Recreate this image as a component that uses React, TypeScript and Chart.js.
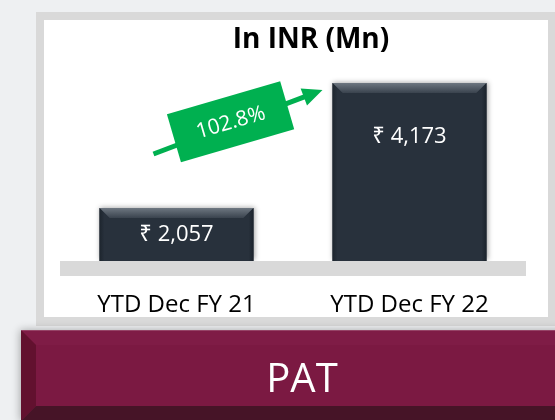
import React, { useEffect, useRef } from "react";
import { Chart, registerables } from "chart.js";

Chart.register(...registerables);

const categories = ["YTD Dec FY 21", "YTD Dec FY 22"];
const patValues = [2057, 4173];
const valueLabels = ["₹ 2,057", "₹ 4,173"];
const growthLabel = "102.8%";
const chartTitle = "In INR (Mn)";
const panelTitle = "PAT";
const yMin = 1160;
const yMax = 4510;

const FONT = "'Open Sans', 'Noto Sans', sans-serif";

function poly(ctx: CanvasRenderingContext2D, pts: number[][], fill: string | CanvasGradient) {
  ctx.beginPath();
  ctx.moveTo(pts[0][0], pts[0][1]);
  for (let i = 1; i < pts.length; i++) ctx.lineTo(pts[i][0], pts[i][1]);
  ctx.closePath();
  ctx.fillStyle = fill;
  ctx.fill();
}

const decorPlugin = {
  id: "decor",
  beforeDraw(chart: any) {
    const ctx: CanvasRenderingContext2D = chart.ctx;
    const W = chart.width;
    ctx.save();
    ctx.fillStyle = "#eef0f2";
    ctx.fillRect(0, 0, W, chart.height);
    ctx.fillStyle = "#d9d9d9";
    ctx.fillRect(36, 12, W - 36, 314);
    ctx.fillStyle = "#ffffff";
    ctx.fillRect(44, 20, 504, 297);

    // maroon PAT box
    const L = 21, T = 330, R = W + 20, B = 421, b = 15;
    ctx.save();
    ctx.shadowColor = "rgba(0,0,0,0.3)";
    ctx.shadowBlur = 8;
    ctx.shadowOffsetX = -1;
    ctx.fillStyle = "#7b1942";
    ctx.fillRect(L, T, R - L, B - T);
    ctx.restore();
    poly(ctx, [[L, T], [R, T], [R - b, T + b], [L + b, T + b]], "#7f1c46");
    poly(ctx, [[L, T], [L + b, T + b], [L + b, B - b], [L, B]], "#62112f");
    poly(ctx, [[L, B], [L + b, B - b], [R - b, B - b], [R, B]], "#461427");
    ctx.fillStyle = "rgba(255,255,255,0.18)";
    ctx.fillRect(L, T, R - L, 1);
    ctx.fillStyle = "#ffffff";
    ctx.font = `40px ${FONT}`;
    ctx.textAlign = "center";
    ctx.textBaseline = "middle";
    ctx.fillText(panelTitle, 302, 381);

    // title
    ctx.fillStyle = "#000000";
    ctx.font = `bold 28px ${FONT}`;
    ctx.fillText(chartTitle, 311, 40);
    ctx.restore();
  },
  beforeDatasetsDraw(chart: any) {
    const { ctx, chartArea } = chart;
    ctx.save();
    ctx.fillStyle = "#d9d9d9";
    ctx.fillRect(chartArea.left, chartArea.bottom, chartArea.right - chartArea.left, 15);
    ctx.restore();
  },
  beforeDatasetDraw(chart: any) {
    const ctx = chart.ctx;
    ctx.save();
    ctx.shadowColor = "rgba(0,0,0,0.35)";
    ctx.shadowBlur = 5;
    ctx.shadowOffsetX = 1;
    ctx.shadowOffsetY = -1;
  },
  afterDatasetDraw(chart: any) {
    chart.ctx.restore();
  },
  afterDatasetsDraw(chart: any) {
    const ctx: CanvasRenderingContext2D = chart.ctx;
    const meta = chart.getDatasetMeta(0);
    const bottom = chart.chartArea.bottom;
    ctx.save();
    const bars: any[] = [];
    meta.data.forEach((bar: any, i: number) => {
      const { x, y, base, width } = bar.getProps(["x", "y", "base", "width"], true);
      const L = x - width / 2, R = x + width / 2, T = y, B = Math.min(base, bottom);
      bars.push({ x, y, L, R, T, B });
      const b = 10;
      const gTop = ctx.createLinearGradient(0, T, 0, T + b);
      gTop.addColorStop(0, "#6e7781");
      gTop.addColorStop(1, "#3a434e");
      poly(ctx, [[L, T], [R, T], [R - b, T + b], [L + b, T + b]], gTop);
      const gl = ctx.createLinearGradient(L, 0, L + 5, 0);
      gl.addColorStop(0, "#1d252e");
      gl.addColorStop(1, "#28313c");
      poly(ctx, [[L, T], [L + b, T + b], [L + 5, T + b + 4], [L + 5, B], [L, B]], gl);
      const gr = ctx.createLinearGradient(R, 0, R - 5, 0);
      gr.addColorStop(0, "#1b232c");
      gr.addColorStop(1, "#28313c");
      poly(ctx, [[R, T], [R - b, T + b], [R - 5, T + b + 4], [R - 5, B], [R, B]], gr);

      ctx.fillStyle = "#ffffff";
      ctx.font = `22px ${FONT}`;
      ctx.textAlign = "center";
      ctx.textBaseline = "middle";
      const ly = T + Math.min((B - T) / 2, 54);
      ctx.fillText(valueLabels[i], x, ly);
    });

    if (bars.length === 2) {
      const s = [bars[0].x - 23, bars[0].T - 54];
      const e = [bars[1].L - 10, bars[1].T + 7];
      const ang = Math.atan2(e[1] - s[1], e[0] - s[0]);
      const green = "#00b050";
      const head = 20;
      ctx.strokeStyle = green;
      ctx.lineWidth = 5;
      ctx.beginPath();
      ctx.moveTo(s[0], s[1]);
      ctx.lineTo(e[0] - Math.cos(ang) * (head - 2), e[1] - Math.sin(ang) * (head - 2));
      ctx.stroke();
      const hx = e[0] - Math.cos(ang) * head, hy = e[1] - Math.sin(ang) * head;
      const px = -Math.sin(ang) * 9, py = Math.cos(ang) * 9;
      poly(ctx, [[e[0], e[1]], [hx + px, hy + py], [hx - px, hy - py]], green);

      const t = 0.456;
      const cx = s[0] + (e[0] - s[0]) * t;
      const cy = s[1] + (e[1] - s[1]) * t - 3;
      const boxAng = (-16.3 * Math.PI) / 180;
      ctx.save();
      ctx.translate(cx, cy);
      ctx.rotate(boxAng);
      ctx.fillStyle = green;
      ctx.fillRect(-59, -25, 118, 50);
      ctx.fillStyle = "#ffffff";
      ctx.font = `21px ${FONT}`;
      ctx.textAlign = "center";
      ctx.textBaseline = "middle";
      ctx.fillText(growthLabel, 0, 1);
      ctx.restore();
    }
    ctx.restore();
  },
};

export default function App() {
  const ref = useRef<HTMLCanvasElement | null>(null);
  useEffect(() => {
    if (!ref.current) return;
    const chart = new Chart(ref.current, {
      type: "bar",
      data: {
        labels: categories,
        datasets: [
          {
            data: patValues,
            base: yMin,
            backgroundColor: "#28313c",
            barPercentage: 0.661,
            categoryPercentage: 1,
          },
        ],
      },
      options: {
        responsive: false,
        animation: false,
        layout: { padding: { top: 63, left: 60, right: 29, bottom: 0 } },
        plugins: {
          legend: { display: false },
          title: { display: false },
          tooltip: { enabled: false },
        },
        scales: {
          x: {
            grid: { display: false, drawTicks: false },
            border: { display: false },
            ticks: { color: "#000000", font: { family: FONT, size: 24 }, padding: 30 },
            afterFit: (s: any) => {
              s.height = 159;
            },
          },
          y: { display: false, min: yMin, max: yMax },
        },
      },
      plugins: [decorPlugin],
    } as any);
    return () => chart.destroy();
  }, []);
  return (
    <div style={{ position: "absolute", left: 0, top: 0, width: 555, height: 420, overflow: "hidden" }}>
      <canvas ref={ref} width={555} height={420} style={{ display: "block" }} />
    </div>
  );
}
